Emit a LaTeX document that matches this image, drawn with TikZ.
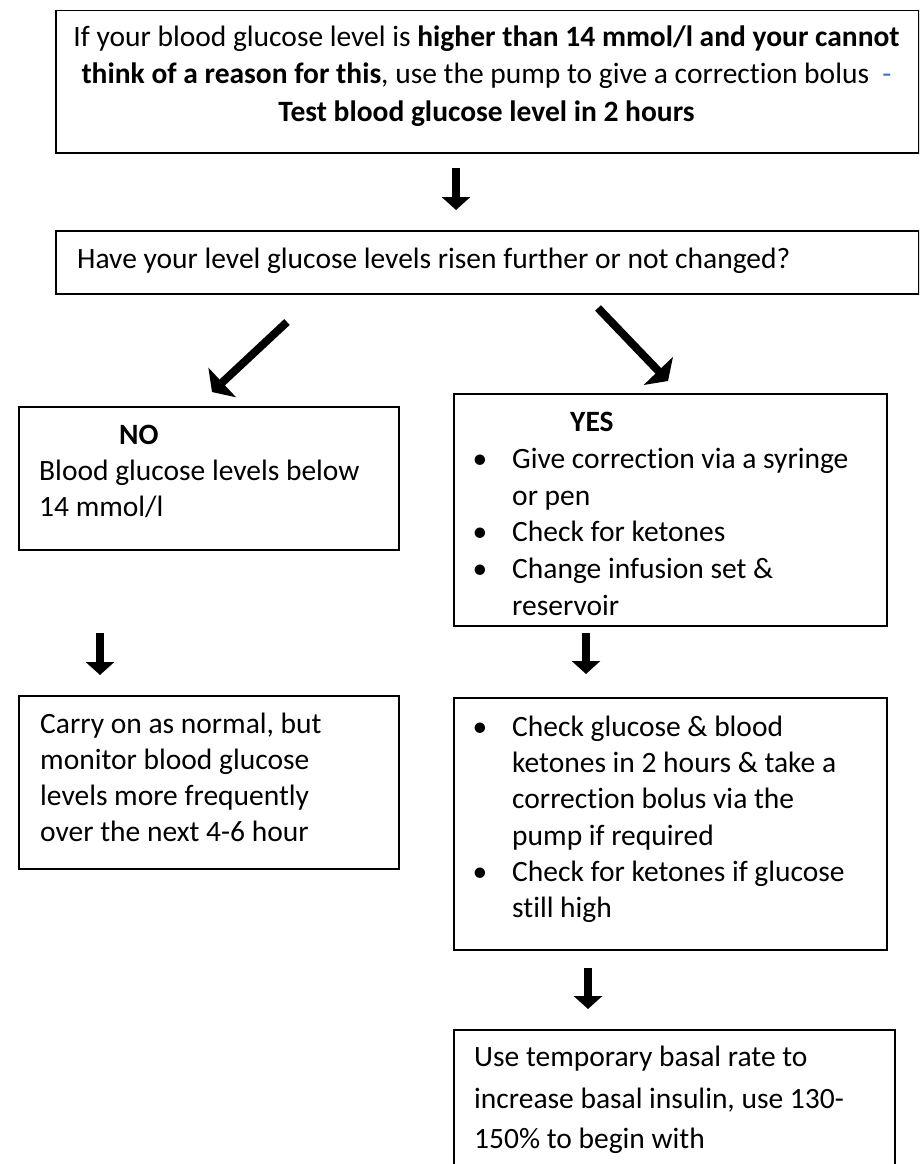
\documentclass[tikz,border=0pt]{standalone}
\usepackage{fontspec}
\setmainfont{Carlito}[Ligatures={NoCommon}]
\usetikzlibrary{arrows.meta}
\definecolor{dashblue}{RGB}{68,114,196}
\begin{document}
\begin{tikzpicture}[x=1pt,y=-1pt,
  box/.style={draw=black, line width=1.5pt, rectangle, inner sep=0pt, anchor=north west},
  txt/.style={inner sep=0pt, anchor=base west, font=\fontsize{29.5}{34}\selectfont},
  ctxt/.style={txt, anchor=base},
  bul/.style={inner sep=0pt, anchor=base, font=\fontsize{29.5}{34}\selectfont},
  darrow/.style={line width=8pt, -{Triangle[width=28pt,length=13pt]}},
  garrow/.style={line width=8pt, -{Triangle[width=40pt,length=14pt]}}]
\path[use as bounding box, clip] (0,0) rectangle (919,1164);
\fill[white] (0,0) rectangle (919,1164);

% boxes
\node[box, minimum width=863pt, minimum height=142pt] (b1) at (55,10) {};
\node[box, minimum width=863pt, minimum height=63pt] (b2) at (55,230) {};
\node[box, minimum width=380pt, minimum height=143pt] (bno) at (18,406) {};
\node[box, minimum width=433pt, minimum height=232pt] (byes) at (453,393) {};
\node[box, minimum width=380pt, minimum height=173pt] (bcarry) at (18,695) {};
\node[box, minimum width=433pt, minimum height=252pt] (bcheck) at (453,697) {};
\node[box, minimum width=441pt, minimum height=200pt] (btemp) at (453,1029) {};

% top box text
\node[ctxt] (t1a) at (486.5,47) {If your blood glucose level is \textbf{higher than 14 mmol/l and your cannot}};
\node[ctxt] (t1b) at (486.5,84) {\textbf{think of a reason for this}, use the pump to give a correction bolus \ {\color{dashblue}-}};
\node[ctxt] (t1c) at (486.5,121) {\textbf{Test blood glucose level in 2 hours}};

% second box
\node[txt] (t2) at (77,268) {Have your level glucose levels risen further or not changed?};

% NO box
\node[txt] (tno) at (119,444) {\textbf{NO}};
\node[txt] (tno1) at (39,480) {Blood glucose levels below};
\node[txt] (tno2) at (39,516) {14 mmol/l};

% YES box
\node[txt] (tyes) at (570,431) {\textbf{YES}};
\node[bul] (by1) at (480,468) {•};
\node[txt] (ty1) at (512,468) {Give correction via a syringe};
\node[txt] (ty2) at (512,505) {or pen};
\node[bul] (by2) at (480,541) {•};
\node[txt] (ty3) at (512,541) {Check for ketones};
\node[bul] (by3) at (480,578) {•};
\node[txt] (ty4) at (512,578) {Change infusion set \&};
\node[txt] (ty5) at (512,615) {reservoir};

% Carry box
\node[txt] (tc1) at (40,733) {Carry on as normal, but};
\node[txt] (tc2) at (40,769) {monitor blood glucose};
\node[txt] (tc3) at (40,805) {levels more frequently};
\node[txt] (tc4) at (40,841) {over the next 4-6 hour};

% Check box
\node[bul] (bk1) at (480,736) {•};
\node[txt] (tk1) at (512,736) {Check glucose \& blood};
\node[txt] (tk2) at (512,772) {ketones in 2 hours \& take a};
\node[txt] (tk3) at (512,808) {correction bolus via the};
\node[txt] (tk4) at (512,845) {pump if required};
\node[bul] (bk2) at (480,881) {•};
\node[txt] (tk5) at (512,881) {Check for ketones if glucose};
\node[txt] (tk6) at (512,917) {still high};

% Temp box
\node[txt] (tt1) at (474,1066) {Use temporary basal rate to};
\node[txt] (tt2) at (474,1108) {increase basal insulin, use 130-};
\node[txt] (tt3) at (474,1148) {150\% to begin with};

% arrows
\coordinate (a0s) at (456,168); \coordinate (a0e) at (456,210);
\coordinate (aLs) at (287,322); \coordinate (aLe) at (212,392);
\coordinate (aRs) at (598,308); \coordinate (aRe) at (668,381);
\coordinate (aNs) at (100,633); \coordinate (aNe) at (100,675);
\coordinate (aYs) at (586,633); \coordinate (aYe) at (586,674);
\coordinate (aCs) at (588,968); \coordinate (aCe) at (588,1009);
\draw[darrow] (a0s) -- (a0e);
\draw[garrow] (aLs) -- (aLe);
\draw[garrow] (aRs) -- (aRe);
\draw[darrow] (aNs) -- (aNe);
\draw[darrow] (aYs) -- (aYe);
\draw[darrow] (aCs) -- (aCe);
\end{tikzpicture}
\end{document}
